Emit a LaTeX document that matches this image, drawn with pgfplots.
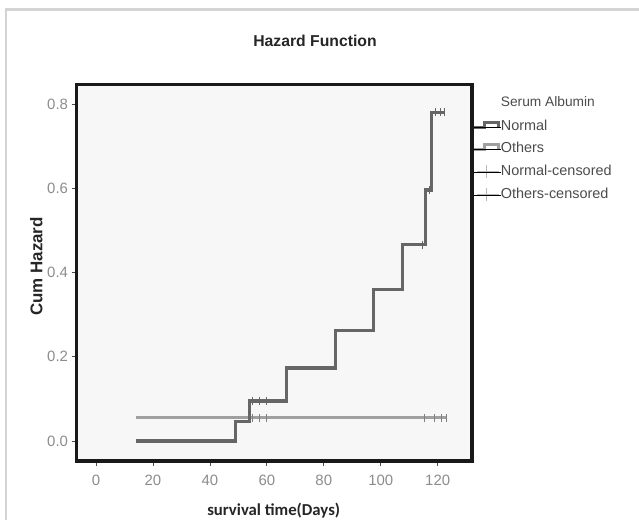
\documentclass[border=0pt]{standalone}
\usepackage{fontspec}
\setmainfont{Liberation Sans}
\newfontfamily\calfont{Carlito}
\usepackage{pgfplots}
\pgfplotsset{compat=1.18}
\definecolor{normc}{HTML}{666666}
\definecolor{othc}{HTML}{A0A0A0}
\definecolor{cens}{HTML}{B8B8B8}
\definecolor{tickc}{HTML}{8C8C8C}
\definecolor{framec}{HTML}{D4D4D4}
\pgfplotsset{
  legnorm/.style={legend image code/.code={
    \draw[normc, line width=3.3bp, line join=miter] (0bp,0bp) -- (10.5bp,0bp) -- (10.5bp,4.5bp) -- (25bp,4.5bp) -- (25bp,0bp);
    \path (0bp,0bp) -- (27bp,0bp);}},
  legoth/.style={legend image code/.code={
    \draw[othc, line width=3.3bp, line join=miter] (0bp,0bp) -- (10.5bp,0bp) -- (10.5bp,4.5bp) -- (25bp,4.5bp) -- (25bp,0bp);
    \path (0bp,0bp) -- (27bp,0bp);}},
  legcens/.style={legend image code/.code={
    \draw[cens, line width=1bp] (3bp,0bp) -- (25bp,0bp);
    \draw[cens, line width=1bp] (13bp,-6.5bp) -- (13bp,6.5bp);
    \path (0bp,0bp) -- (27bp,0bp);}},
}
\begin{document}
\begin{tikzpicture}[x=1bp,y=1bp]
\useasboundingbox (0,0) rectangle (639,520);
\draw[framec, line width=2.5bp] (6.2,-5) -- (6.2,510.3) -- (645,510.3);
\begin{axis}[
  at={(76.5bp,59bp)}, anchor=south west, scale only axis,
  width=395.5bp, height=376.3bp,
  xmin=-6.85, xmax=132.05, ymin=-0.0475, ymax=0.8458,
  axis background/.style={fill=black!3},
  axis line style={line width=3.5bp, color=black!90},
  xtick={0,20,40,60,80,100,120}, ytick={0,0.2,0.4,0.6,0.8},
  tick align=outside, tick pos=left,
  major tick length=5bp, tick style={line width=0.8bp, color=black!70},
  /pgf/number format/assume math mode=true,
  yticklabel style={/pgf/number format/fixed, /pgf/number format/fixed zerofill, /pgf/number format/precision=1,
    font=\fontsize{15}{15}\selectfont, color=tickc},
  xticklabel style={font=\fontsize{15}{15}\selectfont, color=tickc, yshift=-6bp},
  every axis title shift=0pt,
  title={Hazard Function},
  title style={at={(axis description cs:0.603,1.101)}, anchor=base, font=\fontsize{15.8}{16}\selectfont\bfseries, color=black!85},
  xlabel={survival time(Days)},
  xlabel style={at={(axis description cs:0.4986,-0.1454)}, anchor=base, font=\calfont\fontsize{16.8}{17}\selectfont\bfseries, color=black!85},
  ylabel={Cum Hazard},
  ylabel style={at={(axis description cs:-0.086,0.517)}, anchor=base, font=\fontsize{17}{17}\selectfont\bfseries, color=black!85},
  legend style={at={(axis description cs:1,0.968)}, anchor=north west, draw=none, fill=none,
    inner sep=0pt, outer sep=0pt, row sep=9bp, font=\fontsize{14.5}{14.5}\selectfont, text=black!70,
    nodes={inner sep=0pt, text height=10bp, text depth=3bp}},
  legend cell align=left,
]
\addlegendimage{empty legend}
\addlegendentry[text depth=5bp, font=\fontsize{13.8}{14}\selectfont]{Serum Albumin}
\addlegendimage{legnorm}
\addlegendentry{Normal}
\addlegendimage{legoth}
\addlegendentry{Others}
\addlegendimage{legcens}
\addlegendentry{Normal-censored}
\addlegendimage{legcens}
\addlegendentry{Others-censored}

% Others
\addplot[forget plot, othc, line width=3.3bp, const plot, line join=miter] coordinates {
(14,0.055) (123,0.055)};
\addplot[forget plot, only marks, mark=|, mark size=4bp, mark options={othc!80!black, line width=1bp}] coordinates {
(55,0.055) (57.5,0.055) (60,0.055) (115.4,0.055) (119,0.055) (121.3,0.055) (123,0.055)};
% Normal
\addplot[forget plot, normc, line width=3.3bp, const plot, line join=miter] coordinates {
(14,0) (49,0.046) (54,0.095) (67,0.173) (84,0.262) (97.5,0.359) (107.6,0.466) (115.7,0.596) (117.8,0.78) (122.5,0.78)};
\addplot[forget plot, only marks, mark=|, mark size=4bp, mark options={normc, line width=1bp}] coordinates {
(55,0.095) (57.5,0.095) (60,0.095) (114.7,0.466) (117,0.596) (119.2,0.78) (121,0.78) (122.5,0.78)};
\end{axis}
\end{tikzpicture}
\end{document}
